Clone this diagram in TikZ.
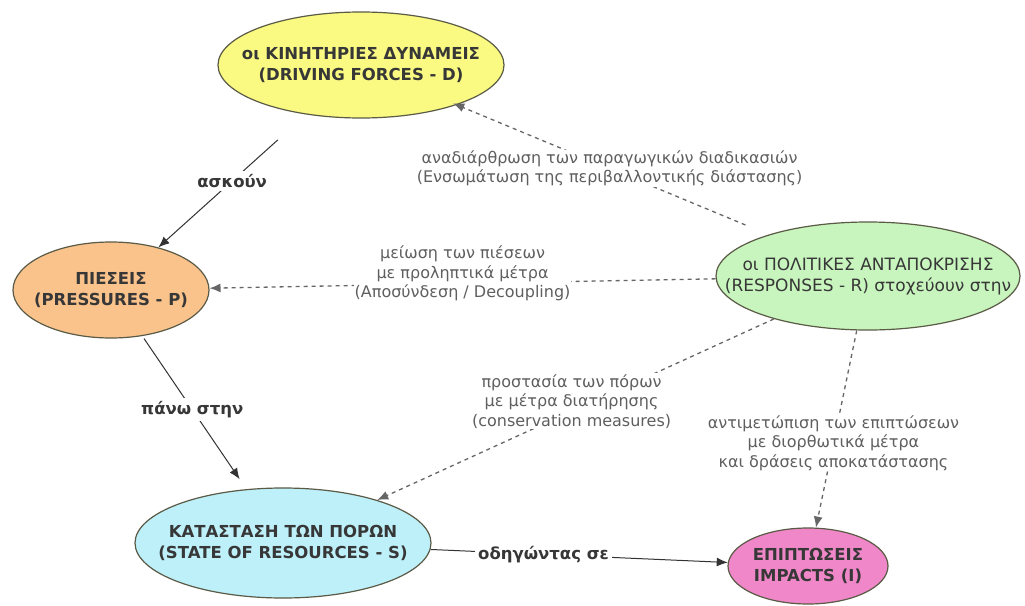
\documentclass[tikz,border=0pt]{standalone}
\usepackage{fontspec}
\setmainfont{DejaVu Sans}
\usetikzlibrary{shapes.geometric,arrows.meta}
\definecolor{yel}{RGB}{250,250,130}
\definecolor{ora}{RGB}{250,195,140}
\definecolor{grn}{RGB}{200,245,190}
\definecolor{cya}{RGB}{190,240,250}
\definecolor{pnk}{RGB}{240,135,200}
\definecolor{edgec}{RGB}{90,90,70}
\definecolor{txtc}{RGB}{55,55,55}
\definecolor{lblc}{RGB}{95,95,95}
\begin{document}
\begin{tikzpicture}[x=1pt,y=-1pt,
  conc/.style={ellipse, draw=edgec, line width=1.2pt, inner xsep=-60pt, inner ysep=-20pt,
    align=center, text=txtc, font=\fontsize{16.5}{21}\selectfont\bfseries},
  link/.style={draw=black!80, line width=1pt, -{Latex[length=11pt,width=9pt]}},
  dlink/.style={draw=black!60, line width=1.3pt, dash pattern=on 4pt off 4pt, -{Latex[length=11pt,width=9pt]}},
  lab/.style={fill=white, align=center, text=lblc, font=\fontsize{16}{19.5}\selectfont, inner sep=1pt},
  vlab/.style={fill=white, text=txtc, font=\fontsize{16.5}{19}\selectfont\bfseries, inner sep=3pt}]
\useasboundingbox[fill=white] (0,0) rectangle (1025,605);

\node[conc, fill=yel, minimum width=286pt, minimum height=106pt] (D) at (361,65)
  {οι ΚΙΝΗΤΗΡΙΕΣ ΔΥΝΑΜΕΙΣ\\(DRIVING FORCES - D)};
\node[conc, fill=ora, minimum width=196pt, minimum height=96pt] (P) at (111,290)
  {ΠΙΕΣΕΙΣ\\(PRESSURES - P)};
\node[conc, fill=grn, minimum width=304pt, minimum height=108pt, font=\fontsize{17}{21}\selectfont] (R) at (868,276)
  {οι ΠΟΛΙΤΙΚΕΣ ΑΝΤΑΠΟΚΡΙΣΗΣ\\(RESPONSES - R) στοχεύουν στην};
\node[conc, fill=cya, minimum width=296pt, minimum height=110pt] (S) at (283,543)
  {ΚΑΤΑΣΤΑΣΗ ΤΩΝ ΠΟΡΩΝ\\(STATE OF RESOURCES - S)};
\node[conc, fill=pnk, minimum width=160pt, minimum height=76pt] (I) at (808,566)
  {ΕΠΙΠΤΩΣΕΙΣ\\IMPACTS (I)};

\draw[link, shorten <=38pt] (D) -- node[vlab, pos=0.5] {ασκούν} (P);
\draw[link, shorten <=3pt, shorten >=12pt] (P) -- node[vlab, pos=0.48] {πάνω στην} (S);
\draw[link] (S) -- node[vlab, pos=0.38] {οδηγώντας σε} (I);

\draw[dlink, shorten <=25pt, shorten >=-4pt] (R) -- node[lab, pos=0.51]
  {αναδιάρθρωση των παραγωγικών διαδικασιών\\(Ενσωμάτωση της περιβαλλοντικής διάστασης)} (D);
\draw[dlink] (R) -- node[lab, pos=0.5, yshift=10pt]
  {μείωση των πιέσεων\\με προληπτικά μέτρα\\(Αποσύνδεση / Decoupling)} (P);
\draw[dlink] (R) -- node[lab, pos=0.51, yshift=10pt]
  {προστασία των πόρων\\με μέτρα διατήρησης\\(conservation measures)} (S);
\draw[dlink] (R) -- node[lab, pos=0.57]
  {αντιμετώπιση των επιπτώσεων\\με διορθωτικά μέτρα\\και δράσεις αποκατάστασης} (I);
\end{tikzpicture}
\end{document}
